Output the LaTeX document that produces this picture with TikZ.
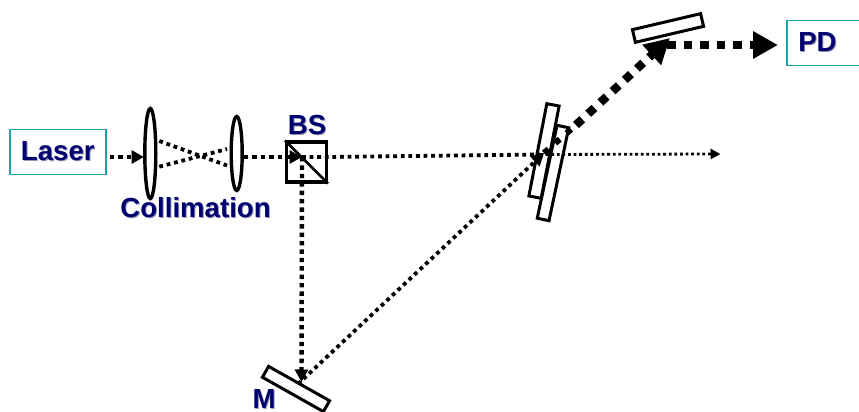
\documentclass[tikz,border=0pt]{standalone}
\usepackage{fontspec}
\setmainfont{Liberation Sans}
\usetikzlibrary{arrows.meta,shapes.geometric}
\definecolor{labelnavy}{RGB}{0,0,110}
\definecolor{labelshade}{RGB}{150,150,180}
\definecolor{boxteal}{RGB}{20,165,165}
\newcommand{\shadedlabel}[1]{\leavevmode\rlap{\kern1pt\raisebox{-1pt}{\color{labelshade}#1}}#1}
\tikzset{
  lbl/.style={text=labelnavy,font=\fontsize{27.6}{27.6}\selectfont\bfseries,inner sep=0pt,anchor=center},
  tealbox/.style={draw=boxteal,line width=1.6pt},
  lens/.style={draw=black,line width=3.4pt,ellipse,minimum width=11pt,inner sep=0pt},
  plate/.style={draw=black,line width=3pt,rectangle,inner sep=0pt},
  beamA/.style={line width=4.4pt,dash pattern=on 4.4pt off 4pt},
  beamB/.style={line width=3.8pt,dash pattern=on 3.8pt off 3.8pt},
  beamC/.style={line width=2.8pt,dash pattern=on 2.8pt off 2.8pt},
  beamD/.style={line width=8.5pt,dash pattern=on 8.5pt off 8.1pt},
  tipA/.style={-{Triangle[length=12.5pt,width=13pt]}},
  tipC/.style={-{Triangle[length=10pt,width=10pt]}},
  tipD/.style={-{Triangle[length=25pt,width=26pt]}},
}
\begin{document}
\begin{tikzpicture}[x=1pt,y=-1pt]
\useasboundingbox (0,0) rectangle (859,412);
\clip (0,0) rectangle (859,412);
% boxes
\node[tealbox,minimum width=96pt,minimum height=45pt,inner sep=0pt] (laser) at (57.8,152) {};
\node[tealbox,minimum width=90pt,minimum height=45pt,inner sep=0pt] (pd) at (832,43) {};
% optics
\node[lens,minimum height=90pt] (lensA) at (150.3,153.5) {};
\node[lens,minimum height=74pt] (lensB) at (236.7,153.5) {};
\node[draw=black,line width=3.2pt,minimum width=40pt,minimum height=40pt,inner sep=0pt] (bs) at (306.5,162) {};
\draw[line width=2.6pt] (bs.north west) -- (bs.south east);
\node[plate,minimum width=94pt,minimum height=12.5pt,rotate=79] (plateA) at (544,151) {};
\node[plate,minimum width=95pt,minimum height=12pt,rotate=78] (plateB) at (553,173) {};
\node[plate,minimum width=70pt,minimum height=13pt,rotate=13.2] (mirrorT) at (668,28) {};
\node[plate,minimum width=70pt,minimum height=12.5pt,rotate=-29.4] (mirrorM) at (296,389) {};
% beam points
\coordinate (laserOut) at (110,157);
\coordinate (lensAin) at (144,157);
\coordinate (upA) at (159.3,141);
\coordinate (lowB) at (227,165.5);
\coordinate (lowA) at (159.3,166.7);
\coordinate (upB) at (227,149);
\coordinate (lensBout) at (244,157);
\coordinate (bsC) at (302,157);
\coordinate (bsOut) at (328,157);
\coordinate (cross) at (540,154.5);
\coordinate (farEnd) at (720.5,154);
\coordinate (mHit) at (301.5,382);
\coordinate (mOut) at (298,384);
\coordinate (crossB) at (544,153);
\coordinate (midB) at (576,125);
\coordinate (tHit) at (670,38);
\coordinate (tOut) at (667,45);
\coordinate (pdIn) at (778,45);
% beams
\draw[beamA,tipA] (laserOut) -- (lensAin);
\draw[beamB] (upA) -- (lowB);
\draw[beamB] (lowA) -- (upB);
\draw[beamA,tipA] (lensBout) -- (bsC);
\draw[beamB] (bsC) -- (bsOut) -- (cross);
\draw[beamC,tipC] (cross) -- (farEnd);
\draw[beamA,tipA] (bsC) -- (mHit);
\draw[beamB,tipA] (mOut) -- (crossB);
\draw[line width=6pt,dash pattern=on 6pt off 9pt] (crossB) -- (midB);
\draw[beamD,tipD] (midB) -- (tHit);
\draw[beamD,tipD] (tOut) -- (pdIn);
% labels
\node[lbl] (laserT) at (laser.center) {\shadedlabel{Laser}};
\node[lbl] (pdT) at (817.5,43) {\shadedlabel{PD}};
\node[lbl] (bsT) at (307,125) {\shadedlabel{BS}};
\node[lbl] (colT) at (195.5,208) {\shadedlabel{Collimation}};
\node[lbl] (mT) at (264,400) {\shadedlabel{M}};
\end{tikzpicture}
\end{document}
